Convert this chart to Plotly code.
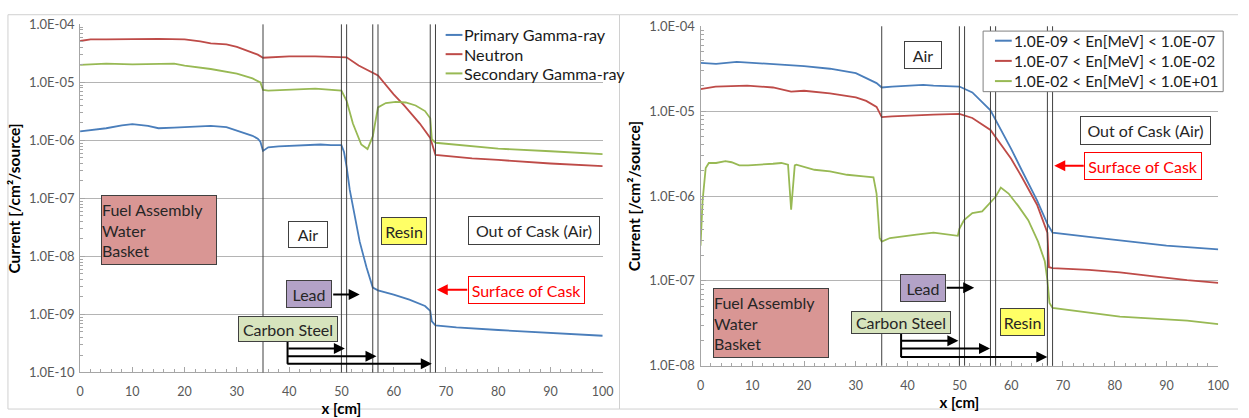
import plotly.graph_objects as go

# ---- Left panel: particle currents along the cask radius ----
x_primary = [0, 2, 5, 8, 10, 13, 15, 18, 20, 23, 25, 28, 30, 32, 33, 34, 34.5, 35, 36, 38, 40, 43, 46, 48, 50,
             50.5, 51, 51.6, 52.2, 53.5, 54.8, 55.5, 56, 57, 60, 63, 66, 67, 67.3, 68, 72, 80, 90, 100]
primary_gamma = [1.43e-6, 1.51e-6, 1.62e-6, 1.82e-6, 1.91e-6, 1.78e-6, 1.62e-6, 1.66e-6, 1.70e-6, 1.74e-6,
                 1.78e-6, 1.70e-6, 1.48e-6, 1.32e-6, 1.20e-6, 1.07e-6, 9.5e-7, 6.6e-7, 7.6e-7, 7.9e-7, 8.1e-7,
                 8.3e-7, 8.5e-7, 8.3e-7, 8.3e-7, 6.3e-7, 3.5e-7, 1.4e-7, 7.1e-8, 1.8e-8, 6.5e-9, 3.8e-9, 2.9e-9,
                 2.6e-9, 2.2e-9, 1.8e-9, 1.4e-9, 1.15e-9, 7.6e-10, 6.5e-10, 6.0e-10, 5.4e-10, 4.8e-10, 4.3e-10]

x_neutron = [0, 2, 5, 10, 15, 20, 23, 25, 28, 30, 32, 34, 35, 36, 40, 45, 50, 51, 53.3, 55, 57, 60, 62, 65,
             67, 68, 75, 80, 90, 100]
neutron = [5.16e-5, 5.5e-5, 5.5e-5, 5.6e-5, 5.6e-5, 5.5e-5, 5.1e-5, 4.7e-5, 4.5e-5, 4.1e-5, 3.55e-5, 3.0e-5,
           2.66e-5, 2.7e-5, 2.8e-5, 2.8e-5, 2.75e-5, 2.7e-5, 1.95e-5, 1.62e-5, 1.32e-5, 6.2e-6, 4.0e-6, 1.95e-6,
           1.10e-6, 5.6e-7, 4.9e-7, 4.6e-7, 4.0e-7, 3.6e-7]

x_secondary = [0, 5, 10, 15, 18, 20, 25, 30, 33, 34.5, 35, 36, 40, 45, 50, 51, 52.2, 53.8, 55, 56, 57, 58.5,
               60.4, 62.3, 64.2, 66, 67, 67.3, 68, 75, 80, 90, 100]
secondary_gamma = [2.0e-5, 2.1e-5, 2.04e-5, 2.1e-5, 2.1e-5, 1.95e-5, 1.7e-5, 1.41e-5, 1.17e-5, 1.0e-5, 7.4e-6,
                   7.2e-6, 7.4e-6, 7.8e-6, 7.2e-6, 4.8e-6, 1.95e-6, 8.5e-7, 7.1e-7, 1.17e-6, 3.7e-6, 4.4e-6,
                   4.6e-6, 4.5e-6, 4.0e-6, 3.2e-6, 2.4e-6, 1.05e-6, 9.1e-7, 7.9e-7, 7.2e-7, 6.5e-7, 5.8e-7]

# ---- Right panel: neutron current by energy group ----
x_low = [0, 3, 7, 10, 14, 20, 25, 28, 30, 32, 34, 35, 37, 43, 45, 50, 52.5, 56, 60, 62, 65, 67, 68, 75, 81,
         90, 100]
en_low = [3.7e-5, 3.6e-5, 3.8e-5, 3.7e-5, 3.55e-5, 3.4e-5, 3.16e-5, 2.95e-5, 2.8e-5, 2.45e-5, 2.14e-5, 1.9e-5,
          1.95e-5, 2.04e-5, 2.0e-5, 1.95e-5, 1.66e-5, 1.02e-5, 3.6e-6, 2.04e-6, 8.9e-7, 4.7e-7, 3.7e-7, 3.3e-7,
          3.0e-7, 2.6e-7, 2.35e-7]

x_mid = [0, 2.9, 9, 14, 17.5, 20, 25, 30, 32, 34, 35, 37, 45, 50, 52.5, 56, 60, 62, 65, 67, 67.3, 68, 75, 81,
         88, 94, 100]
en_mid = [1.82e-5, 1.95e-5, 2.0e-5, 1.9e-5, 1.7e-5, 1.74e-5, 1.62e-5, 1.45e-5, 1.32e-5, 1.12e-5, 8.5e-6, 8.7e-6,
          9.1e-6, 9.3e-6, 8.3e-6, 6.0e-6, 2.75e-6, 1.7e-6, 7.9e-7, 3.7e-7, 1.45e-7, 1.41e-7, 1.35e-7, 1.26e-7,
          1.12e-7, 1.02e-7, 9.5e-8]

x_high = [0, 0.4, 1.0, 1.6, 3, 4.8, 6, 7.5, 9.2, 11.8, 14, 15.6, 16.9, 17.5, 18.2, 18.5, 22, 25, 28.3, 31.5,
          33.4, 34, 34.6, 35, 36.6, 41.7, 45, 49.7, 50, 50.9, 52.5, 54.4, 55.7, 57, 58, 59.5, 61.4, 63.3, 65.2,
          66.5, 67, 67.4, 68, 74.7, 81, 94, 100]
en_high = [2.6e-7, 8.9e-7, 2.14e-6, 2.45e-6, 2.45e-6, 2.57e-6, 2.5e-6, 2.3e-6, 2.3e-6, 2.34e-6, 2.4e-6, 2.45e-6,
           2.34e-6, 6.9e-7, 2.3e-6, 2.34e-6, 2.04e-6, 1.95e-6, 1.78e-6, 1.7e-6, 1.66e-6, 1.07e-6, 3.2e-7, 2.9e-7,
           3.2e-7, 3.5e-7, 3.7e-7, 3.4e-7, 4.1e-7, 5.2e-7, 6.3e-7, 6.6e-7, 8.1e-7, 9.8e-7, 1.26e-6, 1.07e-6,
           7.6e-7, 5.2e-7, 2.9e-7, 1.7e-7, 1.02e-7, 5.5e-8, 4.8e-8, 4.3e-8, 3.8e-8, 3.4e-8, 3.1e-8]

left_names = ["Primary Gamma-ray", "Neutron", "Secondary Gamma-ray"]
right_names = ["1.0E-09 < En[MeV] < 1.0E-07", "1.0E-07 < En[MeV] < 1.0E-02", "1.0E-02 < En[MeV] < 1.0E+01"]

# Material boundaries of the cask wall [cm]
boundaries = [35, 50, 51, 56, 57, 67, 68]

x_ticks = [0, 10, 20, 30, 40, 50, 60, 70, 80, 90, 100]
y_ticks_left = [1e-10, 1e-9, 1e-8, 1e-7, 1e-6, 1e-5, 1e-4]
y_labels_left = ["1.0E-10", "1.0E-09", "1.0E-08", "1.0E-07", "1.0E-06", "1.0E-05", "1.0E-04"]
y_ticks_right = [1e-8, 1e-7, 1e-6, 1e-5, 1e-4]
y_labels_right = ["1.0E-08", "1.0E-07", "1.0E-06", "1.0E-05", "1.0E-04"]

COLORS = ["#4A7EBB", "#BE4B48", "#98B954"]
FONT = "Lato, 'Open Sans', sans-serif"
W, H = 1249, 418


def px(x):
    return x / W


def py(y):
    return 1 - y / H


fig = go.Figure()

for xs, ys, name, color in zip([x_primary, x_neutron, x_secondary],
                               [primary_gamma, neutron, secondary_gamma], left_names, COLORS):
    fig.add_trace(go.Scatter(x=xs, y=ys, name=name, mode="lines", showlegend=False,
                             line=dict(color=color, width=1.8), xaxis="x", yaxis="y"))
for xs, ys, name, color in zip([x_low, x_mid, x_high], [en_low, en_mid, en_high], right_names, COLORS):
    fig.add_trace(go.Scatter(x=xs, y=ys, name=name, mode="lines", showlegend=False,
                             line=dict(color=color, width=1.8), xaxis="x2", yaxis="y2"))

axis_common = dict(showline=True, linecolor="#A6A6A6", linewidth=1, zeroline=False)

x_common = dict(axis_common, range=[0, 100], tickvals=x_ticks, showgrid=False,
                tickfont=dict(family=FONT, size=12.5, color="#595959"),
                ticks="inside", ticklen=5, tickcolor="#A6A6A6", ticklabelstandoff=8,
                minor=dict(dtick=2, ticks="inside", ticklen=3, tickcolor="#A6A6A6", showgrid=False),
                title=dict(text="<b>x [cm]</b>", font=dict(family=FONT, size=15, color="#000000"), standoff=1))
y_common = dict(axis_common, type="log", showgrid=True, gridcolor="#B4B4B4", gridwidth=1,
                tickfont=dict(family=FONT, size=13, color="#595959"),
                ticks="inside", ticklen=5, tickcolor="#A6A6A6", ticklabelstandoff=2,
                minor=dict(dtick="D1", ticks="inside", ticklen=3, tickcolor="#A6A6A6", showgrid=False),
                title=dict(text="<b>Current [/cm²/source]</b>",
                           font=dict(family=FONT, size=15.5, color="#000000"), standoff=4))

fig.update_layout(
    width=W, height=H, autosize=False,
    margin=dict(l=0, r=0, t=0, b=0),
    paper_bgcolor="white", plot_bgcolor="white",
    font=dict(family=FONT),
    showlegend=False,
    xaxis=dict(x_common, domain=[px(77), px(606)], anchor="y"),
    yaxis=dict(y_common, domain=[py(379), py(17)], anchor="x", range=[-10, -4],
               tickvals=y_ticks_left, ticktext=y_labels_left),
    xaxis2=dict(x_common, domain=[px(705), px(1229)], anchor="y2"),
    yaxis2=dict(y_common, domain=[py(372), py(19)], anchor="x2", range=[-8, -4],
                tickvals=y_ticks_right, ticktext=y_labels_right),
)

shapes = []
annotations = []

# Panel frames
shapes.append(dict(type="rect", xref="paper", yref="paper", x0=px(4), x1=px(623), y0=py(417), y1=py(7),
                   line=dict(color="#D0D0D0", width=1)))
shapes.append(dict(type="line", xref="paper", yref="paper", x0=px(623), x1=1, y0=py(7), y1=py(7),
                   line=dict(color="#D0D0D0", width=1)))
shapes.append(dict(type="line", xref="paper", yref="paper", x0=px(623), x1=1, y0=py(417), y1=py(417),
                   line=dict(color="#D0D0D0", width=1)))

# Material boundaries
for xa, ya in (("x", "y domain"), ("x2", "y2 domain")):
    for b in boundaries:
        shapes.append(dict(type="line", xref=xa, yref=ya, x0=b, x1=b, y0=0, y1=1,
                           line=dict(color="#404040", width=1)))


def legend(names, x_line, rows, size, box=None):
    if box is not None:
        x0, y0, x1, y1 = box
        shapes.append(dict(type="rect", xref="paper", yref="paper", x0=px(x0), x1=px(x1), y0=py(y1), y1=py(y0),
                           fillcolor="white", line=dict(color="#808080", width=1), layer="above"))
    for name, color, row in zip(names, COLORS, rows):
        shapes.append(dict(type="line", xref="paper", yref="paper", x0=px(x_line), x1=px(x_line + 17),
                           y0=py(row), y1=py(row), line=dict(color=color, width=2), layer="above"))
        annotations.append(dict(text=name, xref="paper", yref="paper", x=px(x_line + 17), y=py(row),
                                xanchor="left", yanchor="middle", showarrow=False,
                                font=dict(family=FONT, size=size, color="#1A1A1A")))


legend(left_names, 447, [28, 48, 68], 16.2)
legend(right_names, 1003, [34, 55, 76], 15.5, box=(991, 24, 1234, 87))

# Carbon steel bracket stems
shapes.append(dict(type="line", xref="paper", yref="paper", x0=px(287), x1=px(287), y0=py(347), y1=py(370),
                   line=dict(color="black", width=2)))
shapes.append(dict(type="line", xref="paper", yref="paper", x0=px(908), x1=px(908), y0=py(338), y1=py(363),
                   line=dict(color="black", width=2)))


def box(text, x0, y0, x1, y1, bg, border="#404040", color="#262626", align="center", size=16):
    annotations.append(dict(
        text=text, xref="paper", yref="paper", x=px((x0 + x1) / 2), y=py((y0 + y1) / 2),
        xanchor="center", yanchor="middle", showarrow=False, align=align, valign="middle",
        width=x1 - x0 - 2, height=y1 - y0 - 2, borderpad=0, borderwidth=1,
        bgcolor=bg, bordercolor=border, font=dict(family=FONT, size=size, color=color)))


def arrow(x_tail, x_tip, y, color="black", width=2):
    annotations.append(dict(
        text="", xref="paper", yref="paper", x=px(x_tip), y=py(y), ax=x_tail - x_tip, ay=0,
        axref="pixel", ayref="pixel", showarrow=True, arrowhead=2, arrowsize=1.1,
        arrowwidth=width, arrowcolor=color, standoff=0))


# Left panel labels
box("Fuel Assembly<br>Water<br>Basket", 99, 196, 215, 266, "#D99694", align="left")
box("Air", 288, 222, 328, 249, "white")
box("Resin", 382, 218, 428, 246, "#FFFF66")
box("Out of Cask (Air)", 470, 217, 602, 246, "white")
box("Lead", 286, 283, 332, 311, "#B3A2C7")
box("Carbon Steel", 237, 321, 337, 347, "#D7E4BD")
box("Surface of Cask", 470, 279, 587, 307, "white", border="#FF0000", color="#FF0000")
arrow(332, 360, 298)
arrow(287, 345, 354)
arrow(287, 377, 362)
arrow(287, 433, 370)
arrow(470, 438, 293, color="#FF0000")

# Right panel labels
box("Air", 911, 35, 949, 63, "white")
box("Out of Cask (Air)", 1090, 113, 1221, 142, "white")
box("Surface of Cask", 1094, 150, 1212, 178, "white", border="#FF0000", color="#FF0000")
box("Fuel Assembly<br>Water<br>Basket", 718, 293, 834, 363, "#D99694", align="left")
box("Lead", 907, 277, 953, 305, "#B3A2C7")
box("Carbon Steel", 858, 315, 958, 338, "#D7E4BD")
box("Resin", 1008, 313, 1053, 341, "#FFFF66")
arrow(953, 982, 291)
arrow(908, 966, 346)
arrow(908, 998, 354)
arrow(908, 1056, 363)
arrow(1094, 1063, 164, color="#FF0000")

fig.update_layout(shapes=shapes, annotations=annotations)

fig.write_html("out.html")
